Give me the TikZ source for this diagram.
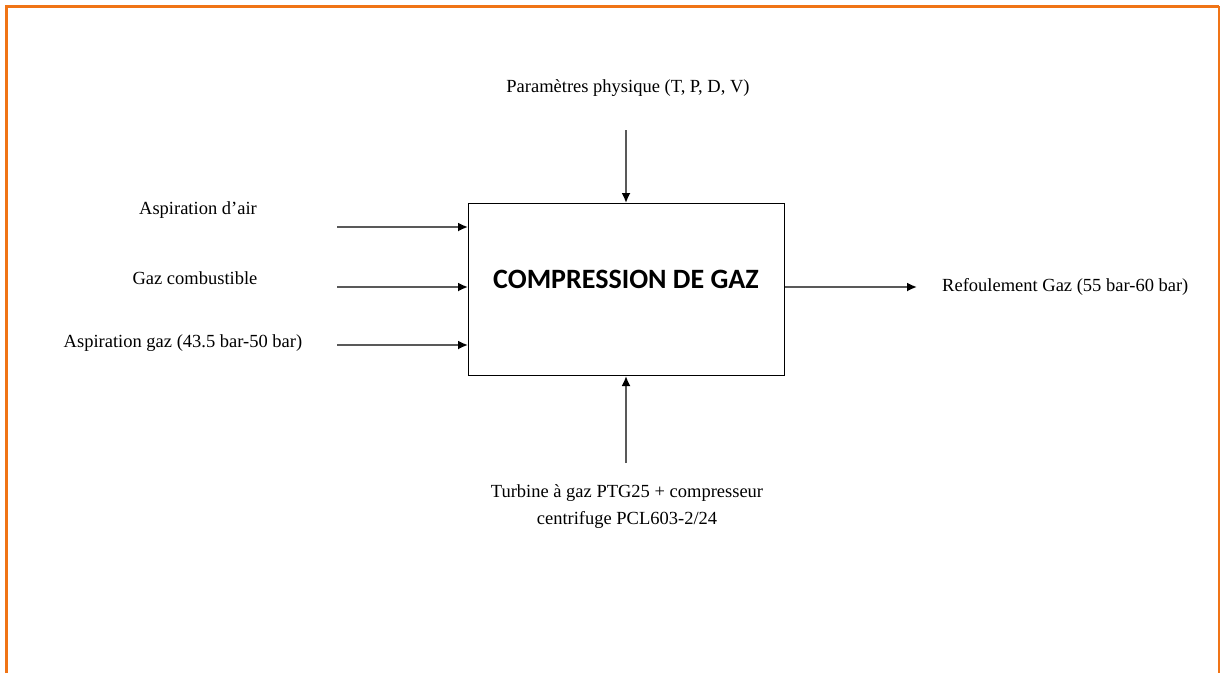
\documentclass[tikz,border=0pt]{standalone}
\usepackage{fontspec}
\setmainfont{Liberation Serif}
\newfontfamily\titlefont{Carlito}
\usetikzlibrary{arrows.meta}
\definecolor{frameorange}{HTML}{F07416}
\begin{document}
\begin{tikzpicture}[x=1pt,y=-1pt,
  lbl/.style={font=\fontsize{18.5}{22}\selectfont, inner sep=0pt},
  flow/.style={draw=black!65, line width=1.8pt, -{Latex[length=10pt,width=9pt,color=black]}},
  mainbox/.style={draw, line width=1pt, minimum width=316pt, minimum height=172pt, inner sep=0pt}]
\useasboundingbox (0,0) rectangle (1221,673);
% page frame
\draw[frameorange, line width=3pt] (6,673) -- (6,6) -- (1219,6);
\draw[frameorange, line width=1.6pt] (1219,6) -- (1219,673);
% central process box
\node[mainbox, anchor=north west] (box) at (468,203) {};
\node[font=\titlefont\bfseries\fontsize{28}{32}\selectfont] (title) at (626,279) {COMPRESSION DE GAZ};
% labels
\node[lbl] (top) at (628,88) {Paramètres physique (T, P, D, V)};
\node[lbl] (l1) at (198,210) {Aspiration d’air};
\node[lbl] (l2) at (195,278) {Gaz combustible};
\node[lbl] (l3) at (183,343) {Aspiration gaz (43.5 bar-50 bar)};
\node[lbl, anchor=west] (out) at (942,287) {Refoulement Gaz (55 bar-60 bar)};
\node[lbl, align=center, font=\fontsize{18.5}{27}\selectfont] (bot) at (627,507) {Turbine à gaz PTG25 + compresseur\\centrifuge PCL603-2/24};
% connector ends
\coordinate (a1) at (337,227);
\coordinate (a2) at (337,287);
\coordinate (a3) at (337,345);
\coordinate (t0) at (626,130);
\coordinate (b0) at (626,463);
\coordinate (r1) at (917,287);
% connectors
\draw[flow] (a1) -- (a1 -| box.west);
\draw[flow] (a2) -- (a2 -| box.west);
\draw[flow] (a3) -- (a3 -| box.west);
\draw[flow] (t0) -- (t0 |- box.north);
\draw[flow] (b0) -- (b0 |- box.south);
\draw[flow] (r1 -| box.east) -- (r1);
\end{tikzpicture}
\end{document}
